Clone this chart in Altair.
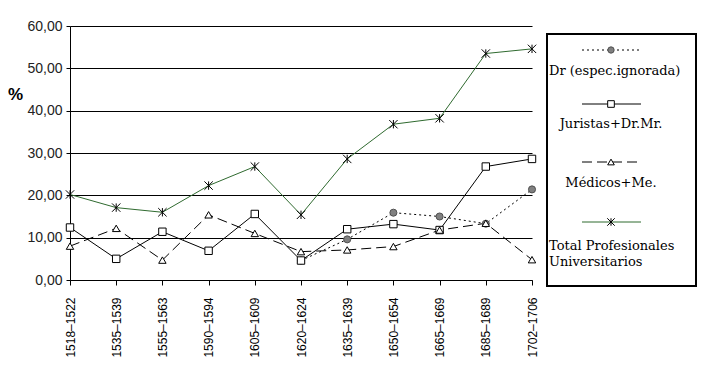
import altair as alt
import pandas as pd

periods = ["1518–1522", "1535–1539", "1555–1563", "1590–1594", "1605–1609",
           "1620–1624", "1635–1639", "1650–1654", "1665–1669", "1685–1689", "1702–1706"]
dr = [None, None, None, None, None, 4.6, 9.6, 15.9, 15.0, 13.3, 21.4]
juristas = [12.4, 5.0, 11.4, 6.9, 15.6, 4.6, 12.0, 13.2, 11.8, 26.8, 28.6]
medicos = [8.0, 12.2, 4.7, 15.4, 11.0, 6.7, 7.1, 7.9, 11.8, 13.4, 4.8]
total = [20.2, 17.1, 16.0, 22.3, 26.8, 15.4, 28.6, 36.8, 38.2, 53.5, 54.6]
y_ticks = [0, 10, 20, 30, 40, 50, 60]

series_names = ["Dr (espec.ignorada)", "Juristas+Dr.Mr.", "Médicos+Me.", "Total Profesionales Universitarios"]
series_values = [dr, juristas, medicos, total]

rows = []
for name, vals in zip(series_names, series_values):
    for p, v in zip(periods, vals):
        if v is not None:
            rows.append({"series": name, "period": p, "value": v})
df = pd.DataFrame(rows)

GREEN = "#2f6a2f"
ASTERISK = "M-1,-1L1,1M-1,1L1,-1M0,-1L0,1"
SERIF = "DejaVu Serif"

x_enc = alt.X("period:N", sort=periods, scale=alt.Scale(padding=0),
              axis=alt.Axis(title=None, labelAngle=270, labelPadding=12, tickSize=5,
                            labelFont="Liberation Sans", labelFontSize=12, labelColor="black",
                            domainColor="black", tickColor="black", grid=False,
                            labelOverlap=False))
y_enc = alt.Y("value:Q", scale=alt.Scale(domain=[0, 60]),
              axis=alt.Axis(values=y_ticks, title="%", titleAngle=0, titleFontWeight="bold",
                            titleFont="Liberation Sans", titleFontSize=17, titleX=-55, titleY=73,
                            titleAlign="center", titleBaseline="alphabetic", titleColor="black",
                            labelExpr="replace(format(datum.value, '.2f'), '.', ',')",
                            labelFont="Liberation Sans", labelFontSize=14, labelColor="#222222",
                            labelPadding=4, tickSize=4, tickColor="black", domainColor="black",
                            grid=True, gridColor="black", gridOpacity=1, gridWidth=1))

styles = {
    "Dr (espec.ignorada)": dict(color="black", dash=[2, 3], shape="circle", fill="#808080", stroke="#505050", size=50, filled=True),
    "Juristas+Dr.Mr.": dict(color="black", dash=None, shape="square", fill="white", stroke="black", size=55, filled=True),
    "Médicos+Me.": dict(color="black", dash=[10, 5], shape="triangle-up", fill="white", stroke="black", size=55, filled=True),
    "Total Profesionales Universitarios": dict(color=GREEN, dash=None, shape=ASTERISK, fill="transparent", stroke="black", size=70, filled=False),
}

lines = []
points = []
for name in series_names:
    s = styles[name]
    base = alt.Chart(df).transform_filter(alt.datum.series == name)
    lk = dict(color=s["color"], strokeWidth=1)
    if s["dash"]:
        lk["strokeDash"] = s["dash"]
    lines.append(base.mark_line(**lk).encode(x=x_enc, y=y_enc))
    points.append(base.mark_point(shape=s["shape"], filled=s["filled"], fill=s["fill"], stroke=s["stroke"],
                                  strokeWidth=1, size=s["size"], opacity=1).encode(x=x_enc, y=y_enc))

one = alt.Data(values=[{"a": 1}])
legend = []
legend.append(alt.Chart(one).mark_rect(fill="white", stroke="black", strokeWidth=2).encode(
    x=alt.value(477), x2=alt.value(626), y=alt.value(8), y2=alt.value(260)))

entries = [
    ("Dr (espec.ignorada)", 24),
    ("Juristas+Dr.Mr.", 78),
    ("Médicos+Me.", 136),
    ("Total Profesionales Universitarios", 196),
]
for name, ly in entries:
    s = styles[name]
    rk = dict(color=s["color"], strokeWidth=1)
    if s["dash"]:
        rk["strokeDash"] = s["dash"]
    legend.append(alt.Chart(one).mark_rule(**rk).encode(
        x=alt.value(512), x2=alt.value(571), y=alt.value(ly)))
    legend.append(alt.Chart(one).mark_point(shape=s["shape"], filled=s["filled"], fill=s["fill"], stroke=s["stroke"],
                                            strokeWidth=1, size=s["size"] * 0.8, opacity=1).encode(
        x=alt.value(541), y=alt.value(ly)))

texts = [
    ("Dr (espec.ignorada)", "left", 479, 49),
    ("Juristas+Dr.Mr.", "center", 541, 102),
    ("Médicos+Me.", "center", 541, 161),
    ("Total Profesionales", "left", 479, 224),
    ("Universitarios", "left", 479, 240),
]
for t, al, tx, ty in texts:
    legend.append(alt.Chart(one).mark_text(text=t, align=al, baseline="alphabetic", font=SERIF,
                                           fontSize=13, color="black").encode(x=alt.value(tx), y=alt.value(ty)))

chart = alt.layer(*lines, *points, *legend).properties(
    width=462, height=254, autosize="none",
    padding={"left": 62, "top": 18, "right": 167, "bottom": 77},
    background="white",
).configure_view(stroke="transparent")

chart.save("out.html", embed_options={"renderer": "svg", "actions": False})
